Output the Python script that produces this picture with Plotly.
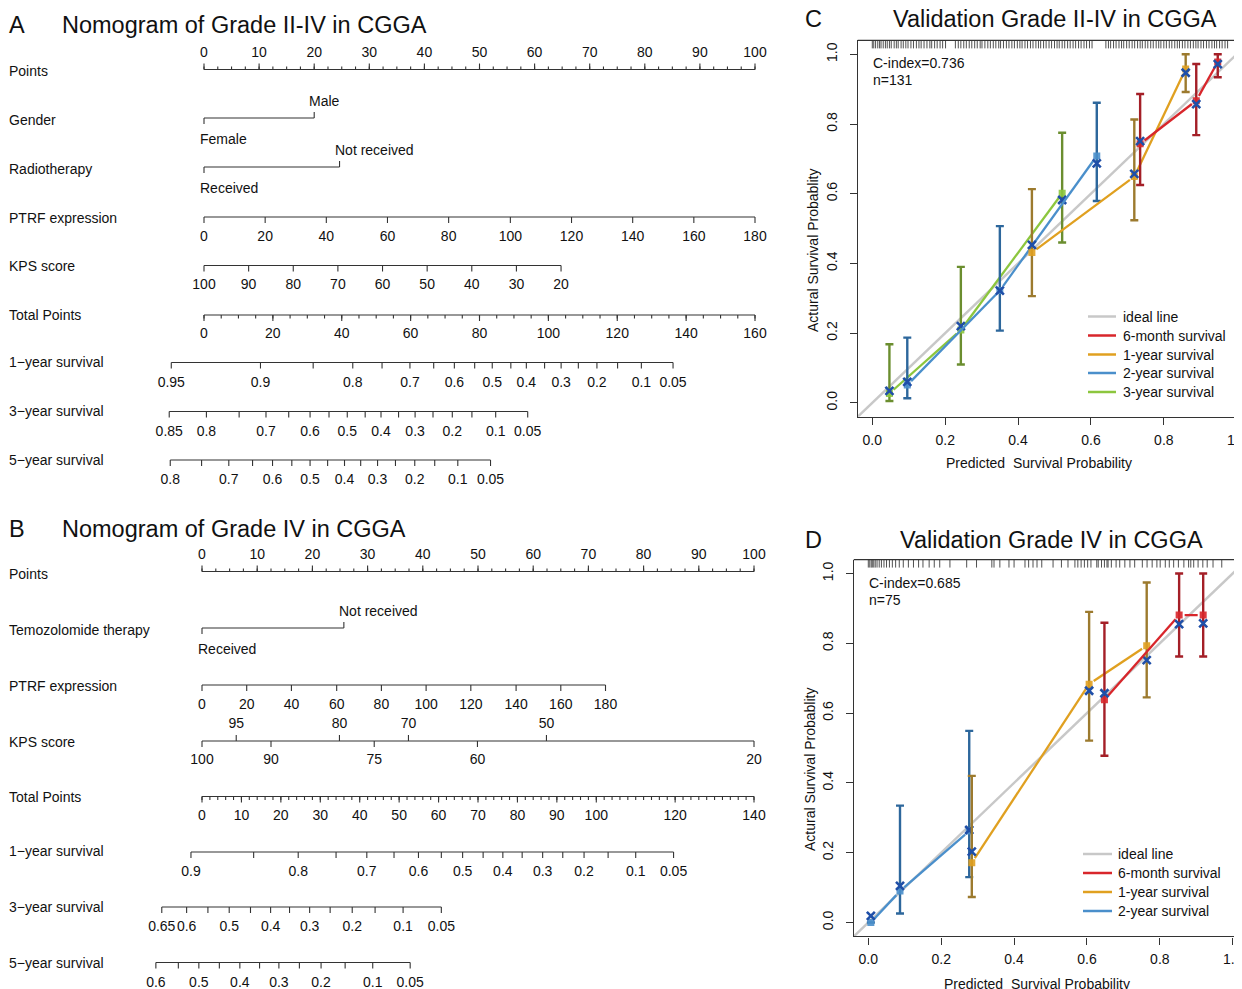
import numpy as np
import plotly.graph_objects as go

W, H = 1242, 989          # browser window
OFF = 8                    # page body margin
FW, FH = W - OFF, H - OFF  # figure size so that the page fits the window exactly
FONT = "Liberation Sans, Arial, Helvetica, sans-serif"
TXT = "#111111"
INK = "#333333"

# ======================= DATA =======================
# ---- Panel A : Nomogram of Grade II-IV ----
A_title = "Nomogram of Grade II-IV in CGGA"
A_row_names = ["Points", "Gender", "Radiotherapy", "PTRF expression", "KPS score",
               "Total Points", "1\u2212year survival", "3\u2212year survival", "5\u2212year survival"]
A_point_labels = [0, 10, 20, 30, 40, 50, 60, 70, 80, 90, 100]
A_gender_levels = ["Female", "Male"]
A_gender_points = [0.0, 20.0]
A_radio_levels = ["Received", "Not received"]
A_radio_points = [0.0, 24.6]
A_ptrf_values = [0, 20, 40, 60, 80, 100, 120, 140, 160, 180]
A_ptrf_points = [0, 11.1, 22.2, 33.3, 44.4, 55.6, 66.7, 77.8, 88.9, 100]
A_kps_values = [100, 90, 80, 70, 60, 50, 40, 30, 20]
A_kps_points = [0, 8.1, 16.2, 24.3, 32.4, 40.5, 48.6, 56.7, 64.8]
A_total_max = 160
A_total_labels = [0, 20, 40, 60, 80, 100, 120, 140, 160]
A_s1_prob = [0.95, 0.9, 0.85, 0.8, 0.75, 0.7, 0.65, 0.6, 0.55, 0.5, 0.45, 0.4, 0.35, 0.3, 0.25, 0.2, 0.15, 0.1, 0.05]
A_s1_total = [-9.5, 16.4, 31.7, 43.2, 51.7, 59.8, 66.7, 72.7, 78.6, 83.7, 89.1, 93.6, 98.9, 103.7, 108.7, 114.1, 120.1, 127.0, 136.2]
A_s1_shown = [0.95, 0.9, 0.8, 0.7, 0.6, 0.5, 0.4, 0.3, 0.2, 0.1, 0.05]
A_s3_prob = [0.85, 0.8, 0.75, 0.7, 0.65, 0.6, 0.55, 0.5, 0.45, 0.4, 0.35, 0.3, 0.25, 0.2, 0.15, 0.1, 0.05]
A_s3_total = [-10.1, 0.7, 10.2, 18.0, 24.6, 30.8, 36.3, 41.6, 46.8, 51.4, 56.5, 61.3, 66.5, 72.1, 77.8, 84.7, 94.0]
A_s3_shown = [0.85, 0.8, 0.7, 0.6, 0.5, 0.4, 0.3, 0.2, 0.1, 0.05]
A_s5_prob = [0.8, 0.75, 0.7, 0.65, 0.6, 0.55, 0.5, 0.45, 0.4, 0.35, 0.3, 0.25, 0.2, 0.15, 0.1, 0.05]
A_s5_total = [-9.8, -0.7, 7.2, 14.1, 19.9, 25.5, 30.8, 35.9, 40.8, 45.5, 50.4, 55.6, 61.2, 67.0, 73.7, 83.2]
A_s5_shown = [0.8, 0.7, 0.6, 0.5, 0.4, 0.3, 0.2, 0.1, 0.05]

# ---- Panel B : Nomogram of Grade IV ----
B_title = "Nomogram of Grade IV in CGGA"
B_row_names = ["Points", "Temozolomide therapy", "PTRF expression", "KPS score",
               "Total Points", "1\u2212year survival", "3\u2212year survival", "5\u2212year survival"]
B_point_labels = [0, 10, 20, 30, 40, 50, 60, 70, 80, 90, 100]
B_temo_levels = ["Received", "Not received"]
B_temo_points = [0.0, 25.7]
B_ptrf_values = [0, 20, 40, 60, 80, 100, 120, 140, 160, 180]
B_ptrf_points = [0, 8.1, 16.2, 24.4, 32.5, 40.6, 48.7, 56.9, 65.0, 73.1]
B_kps_values = [100, 95, 90, 80, 75, 70, 60, 50, 20]
B_kps_points = [0, 6.2, 12.5, 24.9, 31.2, 37.4, 49.9, 62.4, 100]
B_kps_side = ["below", "above", "below", "above", "below", "above", "below", "above", "below"]
B_total_max = 140
B_total_labels = [0, 10, 20, 30, 40, 50, 60, 70, 80, 90, 100, 120, 140]
B_s1_prob = [0.9, 0.85, 0.8, 0.75, 0.7, 0.65, 0.6, 0.55, 0.5, 0.45, 0.4, 0.35, 0.3, 0.25, 0.2, 0.15, 0.1, 0.05]
B_s1_total = [-2.8, 13.1, 24.4, 34.0, 41.8, 48.7, 54.9, 60.7, 66.1, 71.3, 76.3, 81.2, 86.4, 91.5, 96.9, 103.0, 110.0, 119.6]
B_s1_shown = [0.9, 0.8, 0.7, 0.6, 0.5, 0.4, 0.3, 0.2, 0.1, 0.05]
B_s3_prob = [0.65, 0.6, 0.55, 0.5, 0.45, 0.4, 0.35, 0.3, 0.25, 0.2, 0.15, 0.1, 0.05]
B_s3_total = [-10.2, -3.9, 1.5, 6.9, 12.3, 17.4, 22.2, 27.3, 32.5, 38.1, 43.9, 51.0, 60.7]
B_s3_shown = [0.65, 0.6, 0.5, 0.4, 0.3, 0.2, 0.1, 0.05]
B_s5_prob = [0.6, 0.55, 0.5, 0.45, 0.4, 0.35, 0.3, 0.25, 0.2, 0.15, 0.1, 0.05]
B_s5_total = [-11.7, -6.0, -0.8, 4.4, 9.6, 14.6, 19.5, 24.7, 30.2, 36.3, 43.3, 52.8]
B_s5_shown = [0.6, 0.5, 0.4, 0.3, 0.2, 0.1, 0.05]

# ---- Panel C : Validation Grade II-IV ----
C_title = "Validation Grade II-IV in CGGA"
C_cindex = "0.736"
C_n = 131
C_6m_pred = [0.735, 0.889, 0.948]
C_6m_obs = [0.743, 0.867, 0.978]
C_6m_corr = [0.751, 0.857, 0.972]
C_6m_lo = [0.625, 0.768, 0.934]
C_6m_hi = [0.886, 0.972, 1.000]
C_1y_pred = [0.438, 0.719, 0.860]
C_1y_obs = [0.431, 0.649, 0.958]
C_1y_corr = [0.453, 0.657, 0.947]
C_1y_lo = [0.306, 0.524, 0.892]
C_1y_hi = [0.613, 0.813, 1.000]
C_2y_pred = [0.096, 0.350, 0.616]
C_2y_obs = [0.051, 0.322, 0.708]
C_2y_corr = [0.060, 0.322, 0.687]
C_2y_lo = [0.013, 0.207, 0.579]
C_2y_hi = [0.187, 0.507, 0.861]
C_3y_pred = [0.047, 0.243, 0.521]
C_3y_obs = [0.027, 0.209, 0.601]
C_3y_corr = [0.034, 0.220, 0.582]
C_3y_lo = [0.005, 0.110, 0.460]
C_3y_hi = [0.168, 0.390, 0.775]
C_rug = [0.000, 0.004, 0.009, 0.015, 0.020, 0.024, 0.030, 0.036, 0.041, 0.047, 0.052, 0.060, 0.066,
         0.071, 0.079, 0.085, 0.092, 0.098, 0.106, 0.113, 0.121, 0.128, 0.134, 0.142, 0.150, 0.158,
         0.163, 0.171, 0.178, 0.186, 0.193, 0.201, 0.228, 0.236, 0.243, 0.251, 0.258, 0.266, 0.273,
         0.281, 0.288, 0.296, 0.301, 0.309, 0.317, 0.324, 0.332, 0.339, 0.347, 0.352, 0.360, 0.368,
         0.375, 0.383, 0.390, 0.398, 0.405, 0.411, 0.419, 0.426, 0.434, 0.441, 0.449, 0.456, 0.462,
         0.470, 0.477, 0.485, 0.492, 0.500, 0.507, 0.513, 0.521, 0.528, 0.536, 0.543, 0.551, 0.558,
         0.566, 0.573, 0.581, 0.588, 0.596, 0.603, 0.641, 0.648, 0.654, 0.662, 0.669, 0.677, 0.684,
         0.690, 0.698, 0.705, 0.713, 0.720, 0.728, 0.735, 0.741, 0.749, 0.756, 0.764, 0.771, 0.779,
         0.786, 0.792, 0.800, 0.807, 0.815, 0.822, 0.830, 0.837, 0.843, 0.851, 0.858, 0.866, 0.873,
         0.881, 0.888, 0.894, 0.902, 0.909, 0.917, 0.924, 0.932, 0.939, 0.945, 0.953, 0.960, 0.968, 0.975]

# ---- Panel D : Validation Grade IV ----
D_title = "Validation Grade IV in CGGA"
D_cindex = "0.685"
D_n = 75
D_6m_pred = [0.648, 0.853, 0.919]
D_6m_obs = [0.638, 0.881, 0.881]
D_6m_corr = [0.657, 0.855, 0.857]
D_6m_lo = [0.478, 0.762, 0.762]
D_6m_hi = [0.859, 1.000, 1.000]
D_1y_pred = [0.284, 0.606, 0.764]
D_1y_obs = [0.171, 0.683, 0.793]
D_1y_corr = [0.203, 0.664, 0.752]
D_1y_lo = [0.073, 0.521, 0.645]
D_1y_hi = [0.420, 0.890, 0.974]
D_2y_pred = [0.007, 0.087, 0.277]
D_2y_obs = [0.000, 0.090, 0.262]
D_2y_corr = [0.019, 0.105, 0.265]
D_2y_lo = [0.000, 0.026, 0.130]
D_2y_hi = [0.000, 0.335, 0.549]
D_rug = [0.000, 0.004, 0.008, 0.011, 0.015, 0.019, 0.024, 0.030, 0.036, 0.043, 0.050, 0.058, 0.066,
         0.075, 0.085, 0.096, 0.110, 0.124, 0.138, 0.150, 0.167, 0.181, 0.196, 0.224, 0.270, 0.297,
         0.339, 0.345, 0.361, 0.386, 0.400, 0.430, 0.440, 0.452, 0.463, 0.476, 0.507, 0.530, 0.548,
         0.567, 0.575, 0.584, 0.593, 0.602, 0.611, 0.627, 0.631, 0.640, 0.648, 0.655, 0.658, 0.667,
         0.680, 0.690, 0.704, 0.718, 0.731, 0.752, 0.765, 0.779, 0.792, 0.801, 0.815, 0.826, 0.838,
         0.851, 0.866, 0.879, 0.885, 0.893, 0.905, 0.918, 0.930, 0.946, 0.970]

CAL_TICKS = [0.0, 0.2, 0.4, 0.6, 0.8, 1.0]
CAL_TICKTEXT = ["0.0", "0.2", "0.4", "0.6", "0.8", "1.0"]
IDEAL_X = [-0.04, 1.04]

# ======================= STYLE / LAYOUT CONSTANTS =======================
COL = {"ideal": "#c8c8c8", "6m": "#d8262b", "1y": "#e0a020", "2y": "#4a8fcb", "3y": "#8cc63e"}
DARK = {"6m": "#a41f27", "1y": "#9c7a2e", "2y": "#2d679c", "3y": "#6b8e2f"}
XMARK = "#1f4fa8"

# pixel rows (window coordinates) of nomogram panels
A_ROWS_Y = [69.5, 118, 167, 217, 265.5, 315, 362.5, 411.5, 460]
A_NAMES_Y = [71, 120, 169, 218, 266, 315, 362, 411, 460]
B_ROWS_Y = [571.5, 628, 685, 741, 796.5, 852, 907, 962.5]
B_NAMES_Y = [574, 630, 686, 742, 797, 851, 907, 963]
A_PX0, A_PXS = 204.0, 5.51   # window pixel of 0 points, pixels per point
B_PX0, B_PXS = 202.0, 5.52
PAD = 2                      # annotation inner padding
GAP = 5.5                    # px gap left around points on connecting lines (R type="b")

traces = []
annotations = []
shapes = []


def P(xp):
    return (xp - OFF) / FW


def Q(yp):
    return 1 - (yp - OFF) / FH


def segs(x0, y0, x1, y1, xa, ya="y", color=INK, width=1.1):
    X, Y = [], []
    for a, b, c, d in zip(x0, y0, x1, y1):
        X += [a, c, None]
        Y += [b, d, None]
    traces.append(go.Scatter(x=X, y=Y, mode="lines", line=dict(color=color, width=width),
                             xaxis=xa, yaxis=ya, hoverinfo="skip", showlegend=False))


def texts(xs, ys, labels, xa, size=14):
    traces.append(go.Scatter(x=list(xs), y=list(ys), text=list(labels), mode="text",
                             textposition="middle center",
                             textfont=dict(size=size, color=TXT, family=FONT),
                             xaxis=xa, yaxis="y", hoverinfo="skip", showlegend=False,
                             cliponaxis=False))


def fmt(v):
    return "%g" % v


def cont_row(xa, pts, y, labels, dirs=None, ticklen=6, label_dy=20):
    n = len(pts)
    if dirs is None:
        dirs = [1] * n
    segs([min(pts)], [y], [max(pts)], [y], xa)
    segs(pts, [y] * n, pts, [y + d * ticklen for d in dirs], xa)
    lx = [p for p, l in zip(pts, labels) if l != ""]
    ly = [y + (label_dy if d > 0 else -label_dy + 2) for p, l, d in zip(pts, labels, dirs) if l != ""]
    lt = [l for l in labels if l != ""]
    texts(lx, ly, lt, xa)


def cat_row(xa, pts, levels, y):
    segs([pts[0]], [y], [pts[-1]], [y], xa)
    segs(pts, [y, y], pts, [y + 6, y - 6], xa)
    annotations.append(dict(x=pts[0], y=y + 21, xref=xa, yref="y", text=levels[0], showarrow=False,
                            xanchor="left", yanchor="middle", xshift=-4 - PAD,
                            font=dict(size=14, family=FONT, color=TXT)))
    annotations.append(dict(x=pts[1], y=y - 17, xref=xa, yref="y", text=levels[1], showarrow=False,
                            xanchor="left", yanchor="middle", xshift=-5 - PAD,
                            font=dict(size=14, family=FONT, color=TXT)))


def points_row(xa, labels, minor_step, y):
    segs([0], [y], [100], [y], xa)
    minor = np.arange(0, 100.001, minor_step)
    segs(minor, [y] * len(minor), minor, [y - 3] * len(minor), xa)
    segs(labels, [y] * len(labels), labels, [y - 6] * len(labels), xa)
    texts(labels, [y - 16.5] * len(labels), [fmt(v) for v in labels], xa)


def total_row(xa, labels, minor_step, tmax, y):
    f = 100.0 / tmax
    segs([0], [y], [100], [y], xa)
    minor = np.arange(0, tmax + 0.001, minor_step)
    segs(minor * f, [y] * len(minor), minor * f, [y + 3.5] * len(minor), xa)
    lp = [v * f for v in labels]
    segs(lp, [y] * len(lp), lp, [y + 6] * len(lp), xa)
    texts(lp, [y + 19.5] * len(lp), [fmt(v) for v in labels], xa)


def surv_row(xa, probs, totals, shown, tmax, y):
    f = 100.0 / tmax
    pts = [t * f for t in totals]
    labs = [fmt(p) if any(abs(p - s) < 1e-9 for s in shown) else "" for p in probs]
    cont_row(xa, pts, y, labs, label_dy=20.5)


def row_names(names, ys):
    for nm, yy in zip(names, ys):
        annotations.append(dict(x=P(9 - PAD), y=yy, xref="paper", yref="y", text=nm, showarrow=False,
                                xanchor="left", yanchor="middle",
                                font=dict(size=14, family=FONT, color=TXT)))


# ---------------- Panel A ----------------
ry = A_ROWS_Y
points_row("x", A_point_labels, 2.5, ry[0])
cat_row("x", A_gender_points, A_gender_levels, ry[1])
cat_row("x", A_radio_points, A_radio_levels, ry[2])
cont_row("x", A_ptrf_points, ry[3], [fmt(v) for v in A_ptrf_values])
cont_row("x", A_kps_points, ry[4], [fmt(v) for v in A_kps_values])
total_row("x", A_total_labels, 5, A_total_max, ry[5])
surv_row("x", A_s1_prob, A_s1_total, A_s1_shown, A_total_max, ry[6])
surv_row("x", A_s3_prob, A_s3_total, A_s3_shown, A_total_max, ry[7])
surv_row("x", A_s5_prob, A_s5_total, A_s5_shown, A_total_max, ry[8])
row_names(A_row_names, A_NAMES_Y)

# ---------------- Panel B ----------------
ry = B_ROWS_Y
points_row("x2", B_point_labels, 2.5, ry[0])
cat_row("x2", B_temo_points, B_temo_levels, ry[1])
cont_row("x2", B_ptrf_points, ry[2], [fmt(v) for v in B_ptrf_values])
cont_row("x2", B_kps_points, ry[3], [fmt(v) for v in B_kps_values],
         dirs=[1 if s == "below" else -1 for s in B_kps_side], label_dy=19)
total_row("x2", B_total_labels, 2, B_total_max, ry[4])
surv_row("x2", B_s1_prob, B_s1_total, B_s1_shown, B_total_max, ry[5])
surv_row("x2", B_s3_prob, B_s3_total, B_s3_shown, B_total_max, ry[6])
surv_row("x2", B_s5_prob, B_s5_total, B_s5_shown, B_total_max, ry[7])
row_names(B_row_names, B_NAMES_Y)

# panel titles
for letter, title, yy in [("A", A_title, 25), ("B", B_title, 529)]:
    annotations.append(dict(x=P(9 - PAD), y=Q(yy), xref="paper", yref="paper", text=letter, showarrow=False,
                            xanchor="left", yanchor="middle", font=dict(size=23.5, family=FONT, color=TXT)))
    annotations.append(dict(x=P(62 - PAD), y=Q(yy), xref="paper", yref="paper", text=title, showarrow=False,
                            xanchor="left", yanchor="middle", font=dict(size=23.5, family=FONT, color=TXT)))


# ---------------- Calibration panels ----------------
def gapped_line(pred, obs, xs, ys):
    """connecting segments between consecutive points, leaving a small gap round each point"""
    X, Y = [], []
    for i in range(len(pred) - 1):
        dxp = (pred[i + 1] - pred[i]) * xs
        dyp = (obs[i + 1] - obs[i]) * ys
        L = (dxp ** 2 + dyp ** 2) ** 0.5
        if L <= 2 * GAP:
            continue
        t = GAP / L
        X += [pred[i] + t * (pred[i + 1] - pred[i]), pred[i + 1] - t * (pred[i + 1] - pred[i]), None]
        Y += [obs[i] + t * (obs[i + 1] - obs[i]), obs[i + 1] - t * (obs[i + 1] - obs[i]), None]
    return X, Y


def calib_panel(xa, ya, series, rug, xs, ys):
    traces.append(go.Scatter(x=IDEAL_X, y=IDEAL_X, mode="lines", line=dict(color=COL["ideal"], width=2.5),
                             xaxis=xa, yaxis=ya, hoverinfo="skip", showlegend=False))
    segs(rug, [1.04] * len(rug), rug, [1.017] * len(rug), xa, ya, color="#3c3c3c", width=0.9)
    for key, pred, obs, corr, lo, hi in series:
        obs_a = np.array(obs)
        lx, ly = gapped_line(pred, obs, xs, ys)
        traces.append(go.Scatter(x=lx, y=ly, mode="lines", line=dict(color=COL[key], width=2.3),
                                 xaxis=xa, yaxis=ya, hoverinfo="skip", showlegend=False))
        traces.append(go.Scatter(x=pred, y=obs, mode="markers", marker=dict(size=1, opacity=0),
                                 error_y=dict(type="data", symmetric=False,
                                              array=list(np.array(hi) - obs_a),
                                              arrayminus=list(obs_a - np.array(lo)),
                                              color=DARK[key], thickness=2.4, width=4),
                                 xaxis=xa, yaxis=ya, hoverinfo="skip", showlegend=False))
        traces.append(go.Scatter(x=pred, y=obs, mode="markers",
                                 marker=dict(symbol="square", size=7, color=COL[key], opacity=0.9),
                                 xaxis=xa, yaxis=ya, hoverinfo="skip", showlegend=False))
        traces.append(go.Scatter(x=pred, y=corr, mode="markers",
                                 marker=dict(symbol="x-thin", size=8, line=dict(color=XMARK, width=2.6)),
                                 xaxis=xa, yaxis=ya, hoverinfo="skip", showlegend=False))


C_x0, C_sc = 872.3, 364.4
C_y0, C_ysc = 402.8, 348.5
D_x0, D_sc = 868.3, 364.4
D_y0, D_ysc = 922.5, 349.0
NOM_R = 790  # right edge (window px) of nomogram drawing area

C_series = [("3y", C_3y_pred, C_3y_obs, C_3y_corr, C_3y_lo, C_3y_hi),
            ("2y", C_2y_pred, C_2y_obs, C_2y_corr, C_2y_lo, C_2y_hi),
            ("1y", C_1y_pred, C_1y_obs, C_1y_corr, C_1y_lo, C_1y_hi),
            ("6m", C_6m_pred, C_6m_obs, C_6m_corr, C_6m_lo, C_6m_hi)]
D_series = [("2y", D_2y_pred, D_2y_obs, D_2y_corr, D_2y_lo, D_2y_hi),
            ("1y", D_1y_pred, D_1y_obs, D_1y_corr, D_1y_lo, D_1y_hi),
            ("6m", D_6m_pred, D_6m_obs, D_6m_corr, D_6m_lo, D_6m_hi)]
calib_panel("x3", "y3", C_series, C_rug, C_sc, C_ysc)
calib_panel("x4", "y4", D_series, D_rug, D_sc, D_ysc)

LEG_NAMES = {"ideal": "ideal line", "6m": "6-month survival", "1y": "1-year survival",
             "2y": "2-year survival", "3y": "3-year survival"}


def manual_legend(keys, x0, x1, xt, ys):
    for k, yy in zip(keys, ys):
        shapes.append(dict(type="line", xref="paper", yref="paper", x0=P(x0), x1=P(x1), y0=Q(yy), y1=Q(yy),
                           line=dict(color=COL[k], width=2.5)))
        annotations.append(dict(x=P(xt - PAD), y=Q(yy), xref="paper", yref="paper", text=LEG_NAMES[k],
                                showarrow=False, xanchor="left", yanchor="middle",
                                font=dict(size=14, family=FONT, color=TXT)))


manual_legend(["ideal", "6m", "1y", "2y", "3y"], 1088, 1116, 1123, [316.5, 335.5, 354.5, 373, 392])
manual_legend(["ideal", "6m", "1y", "2y"], 1083, 1112, 1118, [854, 873, 892, 911])

for letter, title, cx, yy, cidx, n, tx, ty in [
        ("C", C_title, 1055, 18.5, C_cindex, C_n, 872.5, 63),
        ("D", D_title, 1051, 540, D_cindex, D_n, 868.5, 582.5)]:
    annotations.append(dict(x=P(805 - PAD), y=Q(yy), xref="paper", yref="paper", text=letter, showarrow=False,
                            xanchor="left", yanchor="middle", font=dict(size=23.5, family=FONT, color=TXT)))
    annotations.append(dict(x=P(cx), y=Q(yy), xref="paper", yref="paper", text=title, showarrow=False,
                            xanchor="center", yanchor="middle", font=dict(size=23.5, family=FONT, color=TXT)))
    annotations.append(dict(x=P(tx - PAD), y=Q(ty), xref="paper", yref="paper", text="C-index=" + cidx,
                            showarrow=False, xanchor="left", yanchor="middle",
                            font=dict(size=14, family=FONT, color=TXT)))
    annotations.append(dict(x=P(tx - PAD), y=Q(ty + 17), xref="paper", yref="paper", text="n=%d" % n,
                            showarrow=False, xanchor="left", yanchor="middle",
                            font=dict(size=14, family=FONT, color=TXT)))

for cx, cy in [(1039, 463), (1036.5, 983.5)]:
    annotations.append(dict(x=P(cx), y=Q(cy), xref="paper", yref="paper",
                            text="Predicted \u00a0Survival Probability", showarrow=False,
                            xanchor="center", yanchor="middle", font=dict(size=14, family=FONT, color=TXT)))
for cx, cy in [(813, 250), (810, 770)]:
    annotations.append(dict(x=P(cx), y=Q(cy), xref="paper", yref="paper",
                            text="Actural Survival Probablity", showarrow=False, textangle=-90,
                            xanchor="center", yanchor="middle", font=dict(size=14, family=FONT, color=TXT)))

# top border lines of calibration boxes
for xa, ya in [("x3", "y3"), ("x4", "y4")]:
    shapes.append(dict(type="line", xref=xa + " domain", yref=ya + " domain", x0=0, x1=1, y0=1, y1=1,
                       line=dict(color=INK, width=1.2)))


def cal_xaxis(dom, rng, anchor):
    return dict(domain=dom, range=rng, anchor=anchor, tickmode="array", tickvals=CAL_TICKS,
                ticktext=CAL_TICKTEXT, ticks="outside", ticklen=7, tickwidth=1, tickcolor=INK,
                showline=True, linecolor=INK, linewidth=1.2, showgrid=False, zeroline=False,
                tickfont=dict(size=14, family=FONT, color=TXT), automargin=False,
                ticklabeloverflow="allow", ticklabelstandoff=3, fixedrange=True)


def cal_yaxis(dom, anchor):
    return dict(domain=dom, range=[-0.04, 1.04], anchor=anchor, tickmode="array", tickvals=CAL_TICKS,
                ticktext=CAL_TICKTEXT, ticks="outside", ticklen=7, tickwidth=1, tickcolor=INK,
                showline=True, linecolor=INK, linewidth=1.2, showgrid=False, zeroline=False,
                tickangle=-90, tickfont=dict(size=14, family=FONT, color=TXT), automargin=False,
                ticklabelstandoff=7, fixedrange=True)


layout = dict(
    width=FW, height=FH, margin=dict(l=0, r=0, t=0, b=0),
    paper_bgcolor="white", plot_bgcolor="rgba(0,0,0,0)", showlegend=False,
    font=dict(family=FONT, size=14, color=TXT),
    xaxis=dict(domain=[0, P(NOM_R)], range=[(OFF - A_PX0) / A_PXS, (NOM_R - A_PX0) / A_PXS], visible=False,
               anchor="y", fixedrange=True),
    xaxis2=dict(domain=[0, P(NOM_R)], range=[(OFF - B_PX0) / B_PXS, (NOM_R - B_PX0) / B_PXS], visible=False,
                anchor="y", overlaying="x", fixedrange=True),
    yaxis=dict(domain=[0, 1], range=[H, OFF], visible=False, anchor="x", fixedrange=True),
    xaxis3=cal_xaxis([P(C_x0 - 0.04 * C_sc), 1], [-0.04, (W - C_x0) / C_sc], "y3"),
    yaxis3=cal_yaxis([Q(C_y0 + 0.04 * C_ysc), Q(C_y0 - 1.04 * C_ysc)], "x3"),
    xaxis4=cal_xaxis([P(D_x0 - 0.04 * D_sc), 1], [-0.04, (W - D_x0) / D_sc], "y4"),
    yaxis4=cal_yaxis([Q(D_y0 + 0.04 * D_ysc), Q(D_y0 - 1.04 * D_ysc)], "x4"),
    annotations=annotations, shapes=shapes,
)

fig = go.Figure(data=traces, layout=layout)
fig.write_html("out.html")
